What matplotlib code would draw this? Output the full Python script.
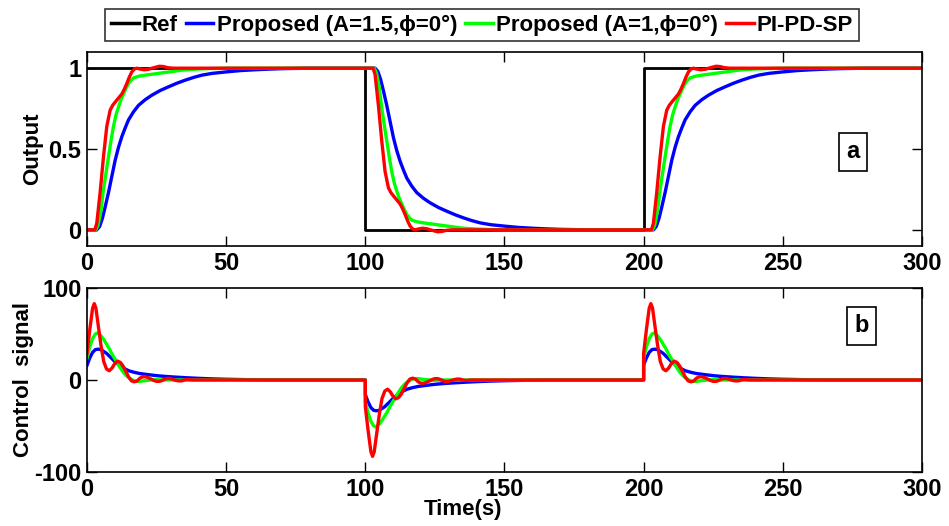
import numpy as np
import matplotlib
matplotlib.use("Agg")
import matplotlib.pyplot as plt

plt.rcParams['font.family'] = ['Liberation Sans', 'DejaVu Sans']
plt.rcParams['font.weight'] = 'bold'
plt.rcParams['axes.unicode_minus'] = False

# ---------------- data ----------------
step_times = [0, 100, 200]          # reference steps
step_dirs = [1, -1, 1]              # up / down / up
ref_t = [0, 100, 200, 300]
ref_level = [1, 0, 1, 1]

# step responses (time after step [s], output) for a unit up-step
blue_rt = [0, 3.5, 4.5, 5.5, 6.5, 7.7, 8.9, 10.1, 11.3, 12.5, 13.7, 14.9, 16.7, 18.5,
           20.9, 23.3, 26.3, 29.3, 32.3, 35.3, 38.3, 41.3, 45, 50, 55, 60, 65, 70, 80, 100]
blue_ry = [0, 0, 0.02, 0.07, 0.14, 0.23, 0.33, 0.43, 0.51, 0.576, 0.63, 0.68, 0.73, 0.77,
           0.805, 0.833, 0.862, 0.885, 0.907, 0.926, 0.943, 0.957, 0.968, 0.977, 0.985,
           0.99, 0.994, 0.997, 1.0, 1.0]

green_rt = [0, 3.2, 4, 5, 5.9, 6.8, 7.7, 8.6, 9.5, 10.4, 11.3, 12.2, 13.1, 14, 14.9,
            15.8, 16.7, 18.5, 20.9, 24, 26.9, 30, 34.1, 37, 40.1, 45, 50, 100]
green_ry = [0, 0, 0.03, 0.12, 0.247, 0.35, 0.45, 0.55, 0.64, 0.71, 0.76, 0.805, 0.84,
            0.875, 0.905, 0.925, 0.94, 0.95, 0.957, 0.964, 0.971, 0.978, 0.988, 0.992,
            0.995, 0.998, 1.0, 1.0]

red_rt = [0, 2.8, 3.5, 4.7, 5.9, 7.1, 8.3, 9.2, 10.1, 11.3, 12.5, 13.4, 14.3, 15.2,
          16.1, 17, 17.9, 19, 20.5, 22, 24, 26, 27.5, 29, 31, 100]
red_ry = [0, 0, 0.04, 0.23, 0.45, 0.64, 0.74, 0.77, 0.79, 0.815, 0.84, 0.87, 0.905,
          0.945, 0.977, 0.995, 1.0, 0.995, 0.99, 0.993, 1.003, 1.012, 1.01, 1.003, 1.0, 1.0]

# control signal after an up-step (time after step [s], u)
blue_ut = [0, 1, 2, 3, 4, 5, 6, 7, 8, 9, 10, 11, 12, 13, 14, 15, 17, 19, 22, 25, 28,
           32, 36, 40, 45, 50, 55, 60, 70, 100]
blue_uy = [16, 24, 30, 33, 33.5, 33, 31, 29, 26, 23, 20, 17.5, 15, 13, 11.5, 10, 8.3,
           7, 5.8, 4.7, 3.9, 3.1, 2.4, 1.8, 1.2, 0.8, 0.5, 0.2, 0, 0]

green_ut = [0, 1, 2, 3, 3.8, 5, 6, 7, 8, 9, 10, 11, 12, 13, 14, 15, 16, 17, 18, 19,
            20, 22, 24, 26, 28, 100]
green_uy = [24, 36, 45, 50, 51, 48, 44, 39, 34, 28, 23, 18, 13, 8.5, 5, 2.5, 0.5, -1,
            -1.5, -1.5, -1, -0.3, 0.3, 0.3, 0, 0]

red_ut = [0, 1, 2, 2.6, 3.2, 4, 5, 6, 7, 8, 9, 10, 11, 12, 13, 14, 15, 16, 17, 18, 19,
          20, 21, 22, 23, 24, 25, 26, 27, 28, 29, 30, 31, 32, 33, 34, 35, 36, 38, 100]
red_uy = [29, 55, 78, 83, 78, 60, 38, 20, 12, 10, 13, 18, 20.5, 19, 15, 9, 3, -1, -2,
          -1, 2, 3.5, 3.5, 2.5, 1, -0.5, -1.5, -1.5, -0.5, 1, 1.8, 1.5, 0.5, -0.5, -1,
          -1, 0, 0.5, 0, 0]

labels = ['Ref', 'Proposed (A=1.5,ϕ=0°)', 'Proposed (A=1,ϕ=0°)', 'PI-PD-SP']
colors = ['#000000', '#0000ff', '#00ff00', '#ff0000']


def build_output(rt, ry):
    t, y = [], []
    for s, d in zip(step_times, step_dirs):
        t.extend(s + np.asarray(rt, float))
        r = np.asarray(ry, float)
        y.extend(r if d > 0 else 1 - r)
    return np.array(t), np.array(y)


def build_control(ut, uy):
    t, y = [], []
    for s, d in zip(step_times, step_dirs):
        t.extend(s + np.asarray(ut, float))
        y.extend(d * np.asarray(uy, float))
    return np.array(t), np.array(y)


fig = plt.figure(figsize=(9.49, 5.26), dpi=100)
ax1 = fig.add_axes([0.0917, 0.5323, 0.8798, 0.3688])
ax2 = fig.add_axes([0.0917, 0.1027, 0.8798, 0.3498])

lw = 2.4
h_ref, = ax1.plot(ref_t, ref_level, drawstyle='steps-post', color=colors[0], lw=2.0)
series_out = [(blue_rt, blue_ry), (green_rt, green_ry), (red_rt, red_ry)]
series_u = [(blue_ut, blue_uy), (green_ut, green_uy), (red_ut, red_uy)]
handles = [h_ref]
for (rt, ry), c in zip(series_out, colors[1:]):
    t, y = build_output(rt, ry)
    h, = ax1.plot(t, y, color=c, lw=lw)
    handles.append(h)
for (ut, uy), c in zip(series_u, colors[1:]):
    t, y = build_control(ut, uy)
    ax2.plot(t, y, color=c, lw=lw)

ax1.set_xlim(0, 300)
ax1.set_ylim(-0.1, 1.1)
ax1.set_yticks([0, 0.5, 1])
ax1.set_yticklabels(['0', '0.5', '1'])
ax2.set_xlim(0, 300)
ax2.set_ylim(-100, 100)
ax2.set_yticks([-100, 0, 100])

for ax in (ax1, ax2):
    ax.set_xticks([0, 50, 100, 150, 200, 250, 300])
    ax.tick_params(direction='in', length=7, width=1.0, top=True, right=True,
                   labelsize=17, pad=4)
    for lab in ax.get_xticklabels() + ax.get_yticklabels():
        lab.set_fontweight('bold')
    for sp in ax.spines.values():
        sp.set_linewidth(1.2)

ax1.set_ylabel('Output', fontsize=16, fontweight='bold')
ax1.yaxis.set_label_coords(-0.052, 0.5)
ax2.set_ylabel('Control  signal', fontsize=16, fontweight='bold')
ax2.yaxis.set_label_coords(-0.064, 0.5)
fig.text(463 / 949, 1 - 509 / 526, 'Time(s)', fontsize=16, fontweight='bold',
         ha='center', va='center')

box = dict(boxstyle='square,pad=0.3', facecolor='white', edgecolor='black', lw=1.2)
fig.text(853 / 949, 1 - 152 / 526, 'a', fontsize=17, fontweight='bold', ha='center',
         va='center', bbox=box)
fig.text(861.5 / 949, 1 - 326 / 526, 'b', fontsize=17, fontweight='bold', ha='center',
         va='center', bbox=box)

leg = fig.legend(handles, labels, loc='center', bbox_to_anchor=(482 / 949, 1 - 25 / 526),
                 ncol=4, prop={'weight': 'bold', 'size': 16},
                 handlelength=1.25, handletextpad=0.15, columnspacing=0.35,
                 borderpad=0.25, borderaxespad=0, fancybox=False, frameon=True)
leg.get_frame().set_edgecolor('black')
leg.get_frame().set_linewidth(1.2)
for line in leg.get_lines():
    line.set_linewidth(2.5)

fig.savefig('out.png', dpi=100)
